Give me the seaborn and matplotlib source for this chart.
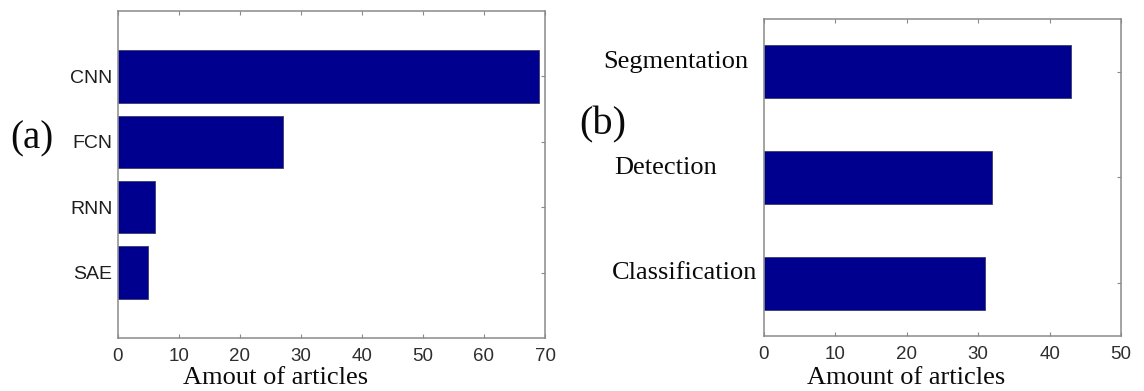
import matplotlib
matplotlib.use("Agg")
import matplotlib.pyplot as plt
import matplotlib.transforms as mtransforms
import seaborn as sns

# panel (a): network types
nets = ["CNN", "FCN", "RNN", "SAE"]
net_counts = [69, 27, 6, 5]

# panel (b): tasks
tasks = ["Segmentation", "Detection", "Classification"]
task_counts = [43, 32, 31]

BAR = "#00008e"
SPINE = "#8a8a8a"
SERIF = "Liberation Serif"
SANS = "Liberation Sans"

sns.set_style("white")
plt.rcParams["font.family"] = [SANS, "DejaVu Sans"]

fig = plt.figure(figsize=(11.44, 3.91), dpi=100)
ax_a = fig.add_axes([0.1031, 0.1355, 0.3733, 0.8363])
ax_b = fig.add_axes([0.6678, 0.1407, 0.3121, 0.8107])

sns.barplot(x=net_counts, y=nets, orient="h", color=BAR, saturation=1,
            width=0.8, edgecolor="#3a3a6a", linewidth=0.6, ax=ax_a)
sns.barplot(x=task_counts, y=tasks, orient="h", color=BAR, saturation=1,
            width=0.5, edgecolor="#3a3a6a", linewidth=0.6, ax=ax_b)

ax_a.set_xlim(0, 70)
ax_a.set_ylim(4.0, -1.0)
ax_a.set_xticks(range(0, 71, 10))
ax_b.set_xlim(0, 50)
ax_b.set_ylim(2.5, -0.5)
ax_b.set_xticks(range(0, 51, 10))

for ax in (ax_a, ax_b):
    ax.set_ylabel("")
    for s in ax.spines.values():
        s.set_visible(True)
        s.set_color(SPINE)
        s.set_linewidth(1.1)
    ax.tick_params(axis="both", direction="in", length=3, width=0.8, color=SPINE,
                   top=True, right=True, left=True, bottom=True)
    ax.tick_params(axis="x", labelsize=13.5, labelcolor="#2e2e2e", pad=7)

ax_a.tick_params(axis="y", labelsize=14, labelcolor="#1e1e1e", pad=4, left=False)
ax_b.tick_params(axis="y", labelsize=19, labelcolor="#0a0a0a", pad=0, left=False)
for lbl in ax_b.get_yticklabels():
    lbl.set_fontfamily(SERIF)

# the task labels sit a bit above their bars and are not aligned
label_shift = {"Segmentation": (-16, 12), "Detection": (-47, 12), "Classification": (-7, 13)}
for lbl in ax_b.get_yticklabels():
    dx, dy = label_shift[lbl.get_text()]
    lbl.set_transform(lbl.get_transform() +
                      mtransforms.ScaledTranslation(dx / 100, dy / 100, fig.dpi_scale_trans))

ax_a.set_xlabel("Amout of articles", fontfamily=SERIF, fontsize=19, color="#0a0a0a")
ax_a.xaxis.set_label_coords(0.368, -0.088)
ax_b.set_xlabel("Amount of articles", fontfamily=SERIF, fontsize=19, color="#0a0a0a")
ax_b.xaxis.set_label_coords(0.398, -0.097)

fig.text(0.028, 0.6445, "(a)", fontfamily=SERIF, fontsize=28, ha="center", va="center", color="#0a0a0a")
fig.text(0.527, 0.68, "(b)", fontfamily=SERIF, fontsize=29, ha="center", va="center", color="#0a0a0a")

fig.savefig("out.png", dpi=100)
